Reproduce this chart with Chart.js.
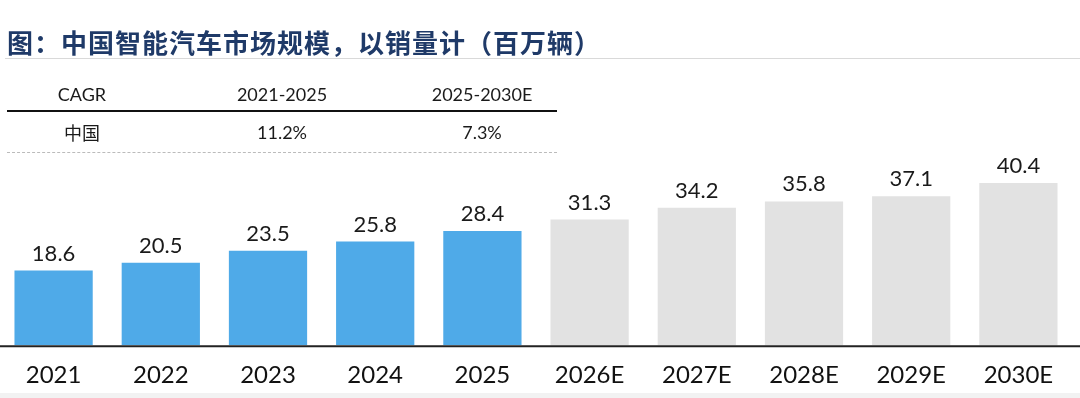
<!DOCTYPE html>
<html>
<head>
<meta charset="utf-8">
<script src="https://cdn.jsdelivr.net/npm/chart.js@4/dist/chart.umd.min.js"></script>
<style>
  html, body { margin: 0; padding: 0; background: #fff; }
  #wrap { position: relative; width: 1080px; height: 398px; overflow: hidden; }
  #title {
    position: absolute; left: 7px; top: 23px;
    font: 700 26px "Noto Sans CJK SC", sans-serif; color: #1f3a68; letter-spacing: 1px;
    white-space: nowrap;
  }
  #titleLine { position: absolute; left: 5px; right: 0; top: 58px; height: 1px; background: #d9d9d9; }
  #cagr { position: absolute; left: 7px; top: 78px; width: 550px; font: 18px Lato, "Noto Sans CJK SC", sans-serif; color: #1a1a1a; }
  #cagr .row { display: flex; height: 32px; align-items: center; }
  #cagr .row div { text-align: center; }
  #cagr .head { border-bottom: 2px solid #111; }
  #cagr .body { height: 40px; border-bottom: 1px dashed #bbb; }
  #bottomStrip { position: absolute; left: 0; right: 0; bottom: 0; height: 5px; background: #f2f2f2; }
  canvas { position: absolute; left: 0; top: 0; }
</style>
</head>
<body>
<div id="wrap">
  <canvas id="chart" width="1080" height="398"></canvas>
  <div id="title">图：中国智能汽车市场规模，以销量计（百万辆）</div>
  <div id="titleLine"></div>
  <div id="cagr"></div>
  <div id="bottomStrip"></div>
</div>
<script>
// 数据
const years = ['2021', '2022', '2023', '2024', '2025', '2026E', '2027E', '2028E', '2029E', '2030E'];
const sales = [18.6, 20.5, 23.5, 25.8, 28.4, 31.3, 34.2, 35.8, 37.1, 40.4];
const isForecast = [false, false, false, false, false, true, true, true, true, true];

// CAGR 表格
const cagrHeader = ['CAGR', '2021-2025', '2025-2030E'];
const cagrRow = ['中国', '11.2%', '7.3%'];
const colWidths = [150, 250, 150];

function renderCagr() {
  const box = document.getElementById('cagr');
  const makeRow = (cells, cls) => {
    const row = document.createElement('div');
    row.className = 'row ' + cls;
    cells.forEach((c, i) => {
      const d = document.createElement('div');
      d.style.width = colWidths[i] + 'px';
      d.textContent = c;
      row.appendChild(d);
    });
    box.appendChild(row);
  };
  makeRow(cagrHeader, 'head');
  makeRow(cagrRow, 'body');
}

const BLUE = '#4faae8';
const GREY = '#e2e2e2';

// 柱顶数值
const valueLabels = {
  id: 'valueLabels',
  afterDatasetsDraw(chart) {
    const ctx = chart.ctx;
    const meta = chart.getDatasetMeta(0);
    ctx.save();
    ctx.font = '22px Lato, sans-serif';
    ctx.fillStyle = '#1a1a1a';
    ctx.textAlign = 'center';
    ctx.textBaseline = 'bottom';
    meta.data.forEach((bar, i) => {
      ctx.fillText(sales[i].toFixed(1), bar.x, bar.y - 6);
    });
    ctx.restore();
  }
};

// 横轴线，贯穿整个宽度
const baseLine = {
  id: 'baseLine',
  afterDraw(chart) {
    const ctx = chart.ctx;
    const y = chart.scales.y.getPixelForValue(0);
    ctx.save();
    ctx.strokeStyle = '#222';
    ctx.lineWidth = 2;
    ctx.beginPath();
    ctx.moveTo(0, y + 1);
    ctx.lineTo(chart.width, y + 1);
    ctx.stroke();
    ctx.restore();
  }
};

function initChart() {
  renderCagr();
  const ctx = document.getElementById('chart').getContext('2d');
  new Chart(ctx, {
    type: 'bar',
    data: {
      labels: years,
      datasets: [{
        data: sales,
        backgroundColor: isForecast.map(f => f ? GREY : BLUE),
        borderWidth: 0,
        barPercentage: 0.73,
        categoryPercentage: 1.0
      }]
    },
    options: {
      responsive: false,
      animation: false,
      layout: { padding: { top: 60, bottom: 0, left: 0, right: 8 } },
      plugins: { legend: { display: false }, tooltip: { enabled: false } },
      scales: {
        x: {
          grid: { display: false },
          border: { display: false },
          ticks: { color: '#111', font: { family: 'Lato', size: 24 }, padding: 8, maxRotation: 0 }
        },
        y: {
          display: false,
          min: 0,
          max: 71
        }
      }
    },
    plugins: [valueLabels, baseLine]
  });
}

if (document.readyState === 'loading') {
  document.addEventListener('DOMContentLoaded', initChart);
} else {
  initChart();
}
</script>
</body>
</html>
